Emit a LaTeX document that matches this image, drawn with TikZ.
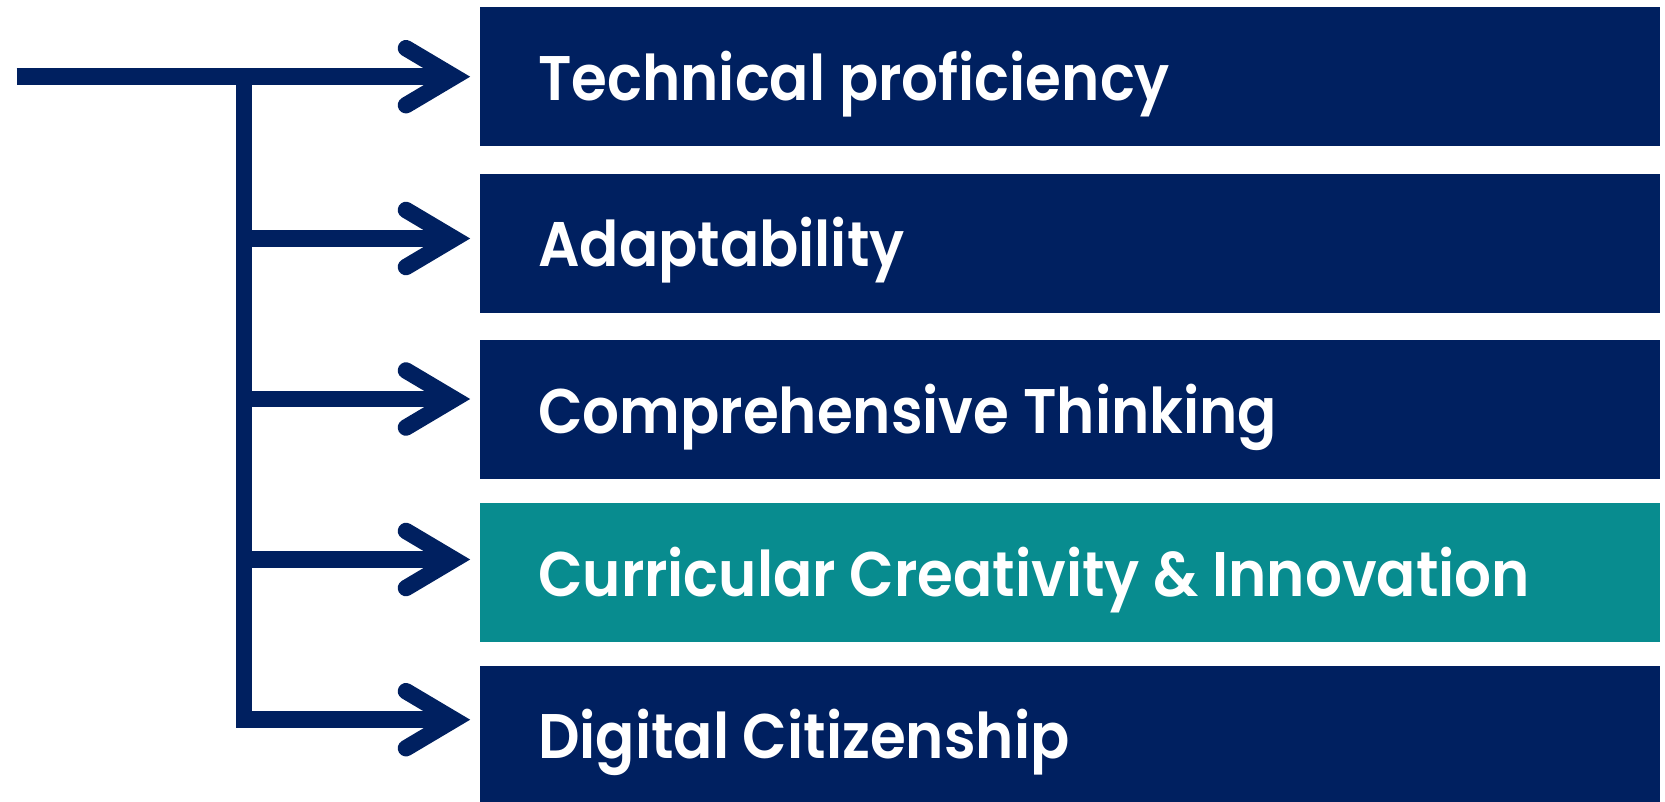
\documentclass[tikz,border=0pt]{standalone}
\usepackage{fontspec}
\setmainfont{Poppins}[BoldFont={Poppins SemiBold}, BoldFeatures={FakeStretch=0.92}]
\usetikzlibrary{calc}
\definecolor{navy}{HTML}{002060}
\definecolor{tealbox}{HTML}{088C8F}
\tikzset{
  box/.style={fill=navy, draw=none, anchor=north west, inner sep=0pt, minimum width=1180pt, minimum height=139pt},
  label/.style={anchor=base west, inner sep=0pt, text=white, font=\fontsize{63}{70}\selectfont\bfseries},
  conn/.style={draw=navy, line width=16.5pt, line cap=butt, line join=miter},
  barb/.style={draw=navy, line width=16.5pt, line cap=round, line join=miter},
}
\begin{document}
\begin{tikzpicture}[x=1pt,y=-1pt]
\useasboundingbox (0,0) rectangle (1665,801);
% boxes
\node[box] (b1) at (480,7) {};
\node[box] (b2) at (480,174) {};
\node[box] (b3) at (480,340) {};
\node[box, fill=tealbox] (b4) at (480,503) {};
\node[box] (b5) at (480,666) {};
\node[label] (t1) at (538,100.7) {Technical proficiency};
\node[label] (t2) at (538,266) {Adaptability};
\node[label] (t3) at (538,433) {Comprehensive Thinking};
\node[label] (t4) at (538,596) {Curricular Creativity \& Innovation};
\node[label] (t5) at (538,758) {Digital Citizenship};
% connector points
\coordinate (s) at (16.7,76.7);
\coordinate (j1) at (244,76.7);
\coordinate (j2) at (244,238.5);
\coordinate (j3) at (244,399);
\coordinate (j4) at (244,559.5);
\coordinate (j5) at (244,719.7);
\foreach \i/\y in {1/76.7,2/238.5,3/399,4/559.5,5/719.7}{
  \coordinate (a\i) at (454,\y);
}
\draw[conn] (s) -- (a1);
\draw[conn] (j1) -- (j5) -- (a5);
\draw[conn] (j2) -- (a2);
\draw[conn] (j3) -- (a3);
\draw[conn] (j4) -- (a4);
\foreach \i in {1,...,5}{
  \draw[barb] ($(a\i)+(-48,-28.5)$) -- (a\i) -- ($(a\i)+(-48,28.5)$);
}
\end{tikzpicture}
\end{document}
